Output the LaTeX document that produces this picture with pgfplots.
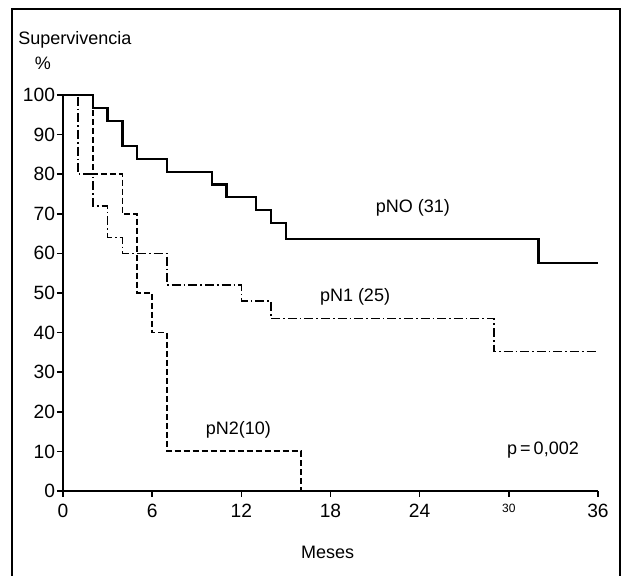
\documentclass[border=0pt]{standalone}
\usepackage{fontspec}
\setmainfont{Liberation Sans}
\usepackage{pgfplots}
\pgfplotsset{compat=1.18}
\begin{document}
\begin{tikzpicture}[font=\fontsize{9}{11}\selectfont]
\useasboundingbox (-31.5pt,-42.5pt) rectangle (281.5pt,245.5pt);
% outer frame (bottom edge falls below the page)
\draw[line width=1pt] (-25.5pt,-60pt) -- (-25.5pt,241pt) -- (278.5pt,241pt) -- (278.5pt,-60pt);
\begin{axis}[
    scale only axis, width=267.5pt, height=198pt,
    xmin=0, xmax=36, ymin=0, ymax=100,
    axis lines*=left,
    axis line style={line width=0.9pt},
    xtick={0,6,...,36}, ytick={0,10,...,100},
    xticklabels={0,6,12,18,24,{\fontsize{6}{7}\selectfont 30},36},
    tick align=outside, major tick length=3pt,
    tick style={line width=0.8pt, black},
    /pgf/number format/assume math mode=true,
    ticklabel style={font=\fontsize{9.6}{11}\selectfont},
    yticklabel style={inner xsep=0.8pt},
    clip=false,
]
% pN0 (31)
\addplot[const plot, black, line width=1.1pt] coordinates {
    (0,100) (2,96.8) (3,93.5) (4,87.1) (5,83.9) (7,80.6) (10,77.4)
    (11,74.2) (13,71) (14,67.7) (15,63.7) (32,57.5) (36,57.5)
};
% pN1 (25)
\addplot[const plot, black, line width=0.8pt,
    dash pattern=on 4.5pt off 1.5pt on 0.8pt off 1.5pt] coordinates {
    (0,100) (1,80) (2,72) (3,64) (4,60) (7,52) (12,48) (14,43.6)
    (29,35.2) (36,35.2)
};
% pN2 (10)
\addplot[const plot, black, line width=0.9pt,
    dash pattern=on 3pt off 1.5pt] coordinates {
    (0,100) (2,80) (4,70) (5,50) (6,40) (7,10) (16,0)
};
\node at (axis cs:23.55,71.5) {pNO (31)};
\node at (axis cs:19.65,49) {pN1 (25)};
\node at (axis cs:11.8,15.4) {pN2(10)};
\node at (axis cs:32.3,10.4) {p\,=\,0,002};
\node at (axis cs:17.8,-15.4) {Meses};
\end{axis}
\node[anchor=west, inner sep=0pt] at (-22.5pt,225.5pt) {Supervivencia};
\node at (-10pt,214pt) {\%};
\end{tikzpicture}
\end{document}
